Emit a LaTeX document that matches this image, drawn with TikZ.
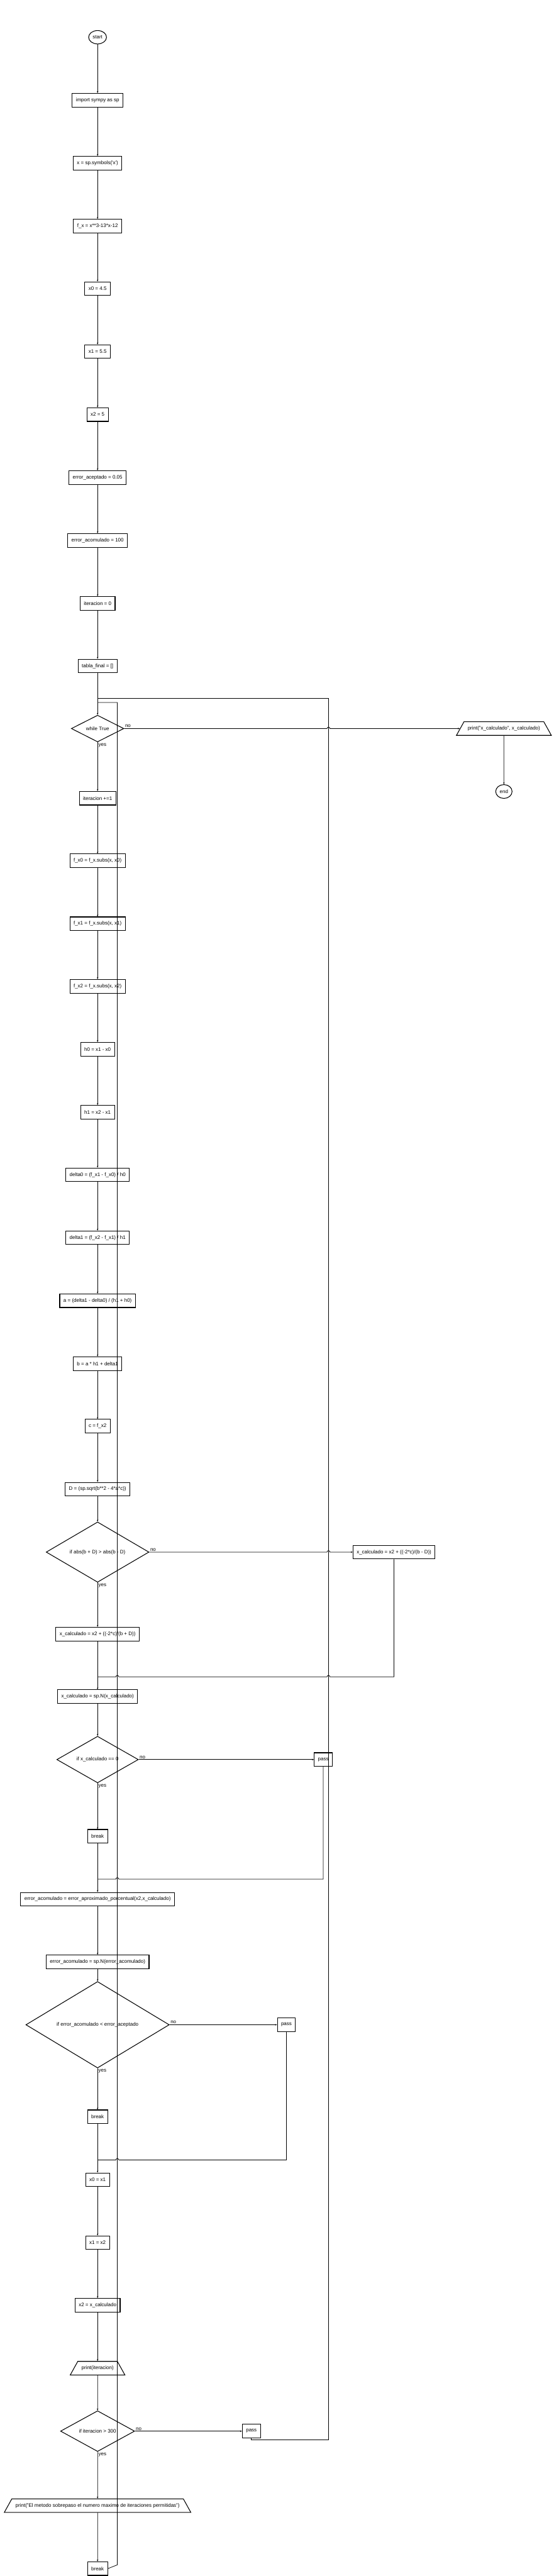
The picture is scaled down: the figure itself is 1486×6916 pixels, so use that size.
\documentclass[tikz,border=0pt]{standalone}
\usepackage{fontspec}
\setmainfont{Liberation Sans}
\usetikzlibrary{shapes.geometric,arrows.meta}

\begin{document}
\begin{tikzpicture}[x=1pt,y=-1pt,line width=1.3pt,
  font=\fontsize{13.5}{16}\selectfont,
  >={Stealth[length=5pt,width=4pt]},
  term/.style={ellipse,draw,line width=1.8pt,minimum width=48pt,minimum height=36pt,inner sep=0pt},
  proc/.style={rectangle,draw,line width=1.8pt,minimum height=36.5pt,inner xsep=10pt},
  cond/.style={diamond,draw,line width=1.8pt,inner sep=0pt},
  io/.style={trapezium,trapezium left angle=61,trapezium right angle=61,draw,line width=1.8pt,
    text height=10pt,text depth=3pt,inner xsep=10pt,inner ysep=11.75pt},
  lbl/.style={inner sep=2pt}]
\useasboundingbox (0,0) rectangle (1486,6916);

\node[term] (start) at (262,100) {start};
\node[proc] (imp) at (262,269) {import sympy as sp};
\node[proc] (sym) at (262,438) {x = sp.symbols(\textquotesingle x\textquotesingle)};
\node[proc] (fx) at (262,607) {f\_x = x**3-13*x-12};
\node[proc] (x0) at (262,775) {x0 = 4.5};
\node[proc] (x1) at (262,944) {x1 = 5.5};
\node[proc] (x2) at (262,1113) {x2 = 5};
\node[proc] (eacep) at (262,1282) {error\_aceptado = 0.05};
\node[proc] (eacum) at (262,1451) {error\_acomulado = 100};
\node[proc] (it0) at (262,1620) {iteracion = 0};
\node[proc] (tabla) at (262,1788) {tabla\_final = []};
\node[cond,minimum width=141pt,minimum height=70pt] (while) at (262,1956) {while True};
\node[io] (printx) at (1353,1956) {print("x\_calculado", x\_calculado)};
\node[term,minimum width=44pt,minimum height=37pt] (end) at (1353,2125) {end};
\node[proc] (inc) at (262,2143) {iteracion +=1};
\node[proc] (fx0) at (262,2311) {f\_x0 = f\_x.subs(x, x0)};
\node[proc] (fx1) at (262,2480) {f\_x1 = f\_x.subs(x, x1)};
\node[proc] (fx2) at (262,2648) {f\_x2 = f\_x.subs(x, x2)};
\node[proc] (h0) at (262,2817) {h0 = x1 - x0};
\node[proc] (h1) at (262,2986) {h1 = x2 - x1};
\node[proc] (d0) at (262,3154) {delta0 = (f\_x1 - f\_x0) / h0};
\node[proc] (d1) at (262,3323) {delta1 = (f\_x2 - f\_x1) / h1};
\node[proc] (a) at (262,3492) {a = (delta1 - delta0) / (h1 + h0)};
\node[proc] (b) at (262,3661) {b = a * h1 + delta1};
\node[proc] (c) at (262,3829) {c = f\_x2};
\node[proc] (D) at (262,3998) {D = (sp.sqrt(b**2 - 4*a*c))};
\node[cond,minimum width=276pt,minimum height=140pt] (ifabs) at (262,4167) {if abs(b + D) > abs(b - D)};
\node[proc] (xc1) at (262,4387) {x\_calculado = x2 + ((-2*c)/(b + D))};
\node[proc] (xc2) at (1058,4167) {x\_calculado = x2 + ((-2*c)/(b - D))};
\node[proc] (xcn) at (262,4555) {x\_calculado = sp.N(x\_calculado)};
\node[cond,minimum width=219pt,minimum height=110pt] (ifz) at (262,4724) {if x\_calculado == 0};
\node[proc] (pass1) at (868,4724) {pass};
\node[proc] (brk1) at (262,4930) {break};
\node[proc] (eap) at (262,5099) {error\_acomulado = error\_aproximado\_porcentual(x2,x\_calculado)};
\node[proc] (ean) at (262,5267) {error\_acomulado = sp.N(error\_acomulado)};
\node[cond,minimum width=385pt,minimum height=193pt] (iferr) at (262,5436) {if error\_acomulado < error\_aceptado};
\node[proc] (pass2) at (769,5436) {pass};
\node[proc] (brk2) at (262,5683) {break};
\node[proc] (x01) at (262,5852) {x0 = x1};
\node[proc] (x12) at (262,6021) {x1 = x2};
\node[proc] (x2c) at (262,6189) {x2 = x\_calculado};
\node[io] (prit) at (262,6358) {print(iteracion)};
\node[cond,minimum width=199pt,minimum height=99pt] (ifit) at (262,6527) {if iteracion > 300};
\node[proc] (pass3) at (675,6527) {pass};
\node[io] (prmsg) at (262,6727) {print("El metodo sobrepaso el numero maximo de iteraciones permitidas")};
\node[proc] (brk3) at (262,6896) {break};

\coordinate (lpo) at (262,1875);
\coordinate (lpi) at (262,1886);
\coordinate (j1) at (262,4502);
\coordinate (j2) at (262,5045);
\coordinate (j3) at (262,5799);

\draw[->] (start) -- (imp);
\draw[->] (imp) -- (sym);
\draw[->] (sym) -- (fx);
\draw[->] (fx) -- (x0);
\draw[->] (x0) -- (x1);
\draw[->] (x1) -- (x2);
\draw[->] (x2) -- (eacep);
\draw[->] (eacep) -- (eacum);
\draw[->] (eacum) -- (it0);
\draw[->] (it0) -- (tabla);
\draw[->] (tabla) -- (while);
\draw[->] (while.east) node[lbl,above right] {no} -- (878,1956) arc[start angle=180,end angle=360,radius=4] -- (printx.west);
\draw[->] (printx) -- (end);
\draw[->] (while.south) node[lbl,below right] {yes} -- (inc);
\draw[->] (inc) -- (fx0);
\draw[->] (fx0) -- (fx1);
\draw[->] (fx1) -- (fx2);
\draw[->] (fx2) -- (h0);
\draw[->] (h0) -- (h1);
\draw[->] (h1) -- (d0);
\draw[->] (d0) -- (d1);
\draw[->] (d1) -- (a);
\draw[->] (a) -- (b);
\draw[->] (b) -- (c);
\draw[->] (c) -- (D);
\draw[->] (D) -- (ifabs);
\draw[->] (ifabs.south) node[lbl,below right] {yes} -- (xc1);
\draw[->] (ifabs.east) node[lbl,above right] {no} -- (878,4167) arc[start angle=180,end angle=360,radius=4] -- (xc2.west);
\draw (xc2.south) -- (1058,4502) -- (886,4502) arc[start angle=0,end angle=-180,radius=4] -- (319,4502) arc[start angle=0,end angle=-180,radius=4] -- (j1);
\draw[->] (xc1) -- (xcn);
\draw[->] (xcn) -- (ifz);
\draw[->] (ifz.east) node[lbl,above right] {no} -- (pass1.west);
\draw[->] (ifz.south) node[lbl,below right] {yes} -- (brk1);
\draw (pass1.south) -- (868,5045) -- (319,5045) arc[start angle=0,end angle=-180,radius=4] -- (j2);
\draw[->] (brk1) -- (eap);
\draw[->] (eap) -- (ean);
\draw[->] (ean) -- (iferr);
\draw[->] (iferr.east) node[lbl,above right] {no} -- (pass2.west);
\draw[->] (iferr.south) node[lbl,below right] {yes} -- (brk2);
\draw (pass2.south) -- (769,5799) -- (319,5799) arc[start angle=0,end angle=-180,radius=4] -- (j3);
\draw[->] (brk2) -- (x01);
\draw[->] (x01) -- (x12);
\draw[->] (x12) -- (x2c);
\draw[->] (x2c) -- (prit);
\draw[->] (prit) -- (ifit);
\draw[->] (ifit.east) node[lbl,above right] {no} -- (pass3.west);
\draw[->] (ifit.south) node[lbl,below right] {yes} -- (prmsg);
\draw[->] (prmsg) -- (brk3);

% loops back to while
\draw (pass3.south) -- (675,6550) -- (882,6550) -- (882,1875) -- (lpo);
\draw (brk3.east) -- (315,6886) -- (315,1886) -- (lpi);
\end{tikzpicture}
\end{document}
